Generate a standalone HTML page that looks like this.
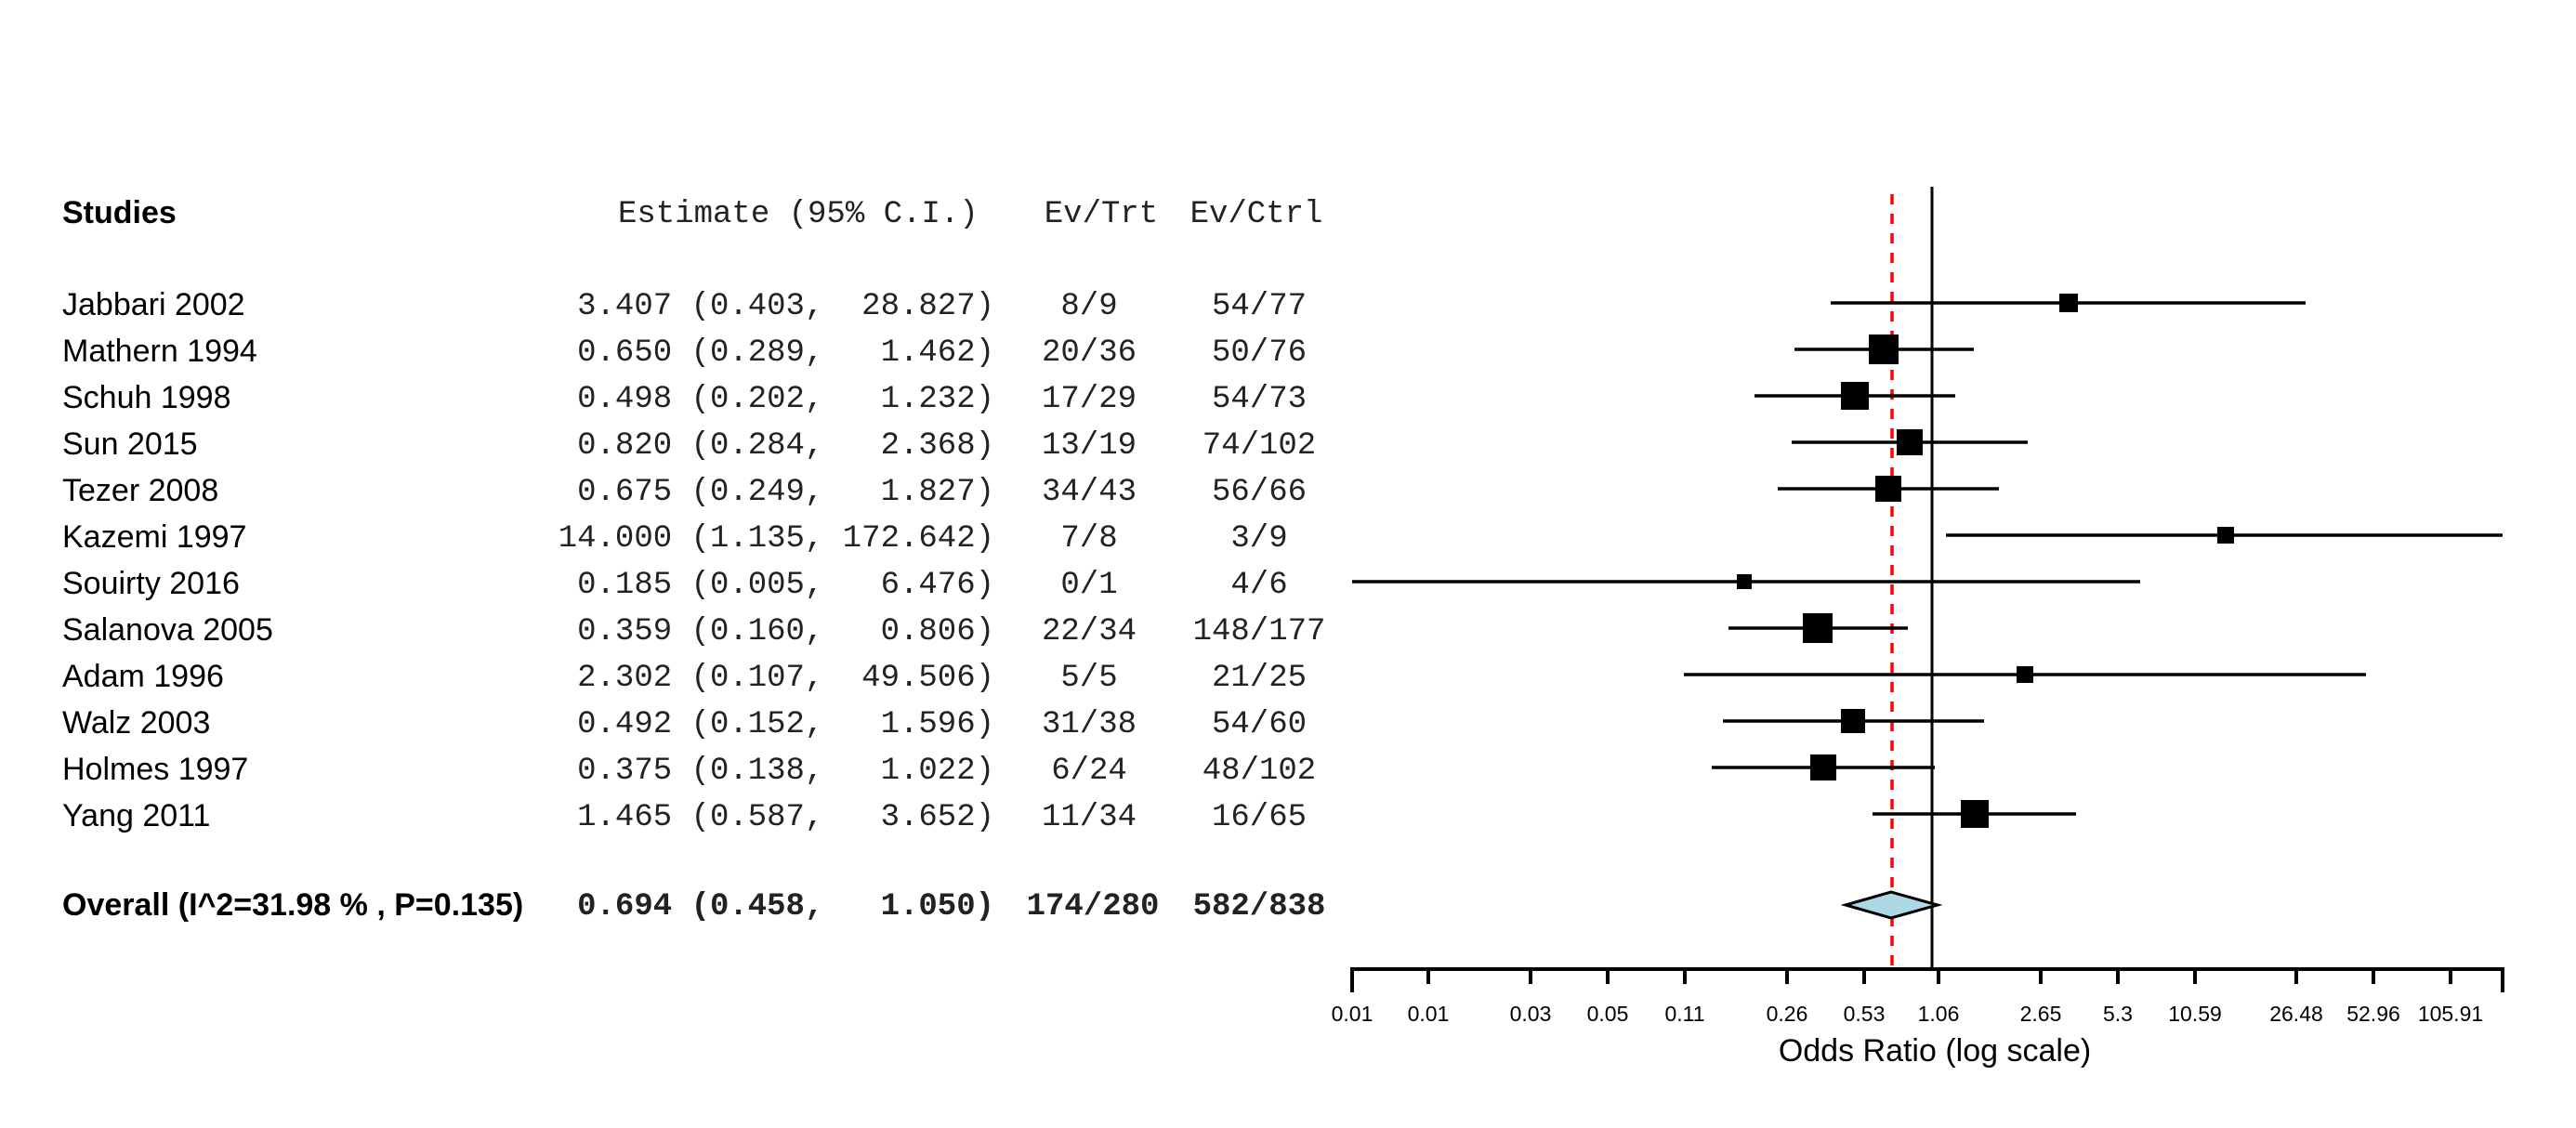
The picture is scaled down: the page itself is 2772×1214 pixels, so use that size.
<!DOCTYPE html>
<html><head><meta charset="utf-8"><style>
html,body{margin:0;padding:0;background:#fff;}
svg{display:block;}
.s{font-family:"Liberation Sans",Arial,sans-serif;font-size:34px;fill:#000;}
.m{font-family:"Liberation Mono","Courier New",monospace;font-size:34px;fill:#222;}
.t{font-family:"Liberation Sans",Arial,sans-serif;font-size:23px;fill:#000;text-anchor:middle;}
</style></head><body>
<svg width="2772" height="1214" viewBox="0 0 2772 1214" xmlns="http://www.w3.org/2000/svg">
<text class="s" x="67" y="240" font-weight="bold">Studies</text>
<text class="m" x="665" y="239" xml:space="preserve">Estimate (95% C.I.)</text>
<text class="m" x="1185" y="239" text-anchor="middle">Ev/Trt</text>
<text class="m" x="1352" y="239" text-anchor="middle">Ev/Ctrl</text>

<text class="s" x="67" y="339">Jabbari 2002</text>
<text class="s" x="67" y="389">Mathern 1994</text>
<text class="s" x="67" y="439">Schuh 1998</text>
<text class="s" x="67" y="489">Sun 2015</text>
<text class="s" x="67" y="539">Tezer 2008</text>
<text class="s" x="67" y="589">Kazemi 1997</text>
<text class="s" x="67" y="639">Souirty 2016</text>
<text class="s" x="67" y="689">Salanova 2005</text>
<text class="s" x="67" y="739">Adam 1996</text>
<text class="s" x="67" y="789">Walz 2003</text>
<text class="s" x="67" y="839">Holmes 1997</text>
<text class="s" x="67" y="889">Yang 2011</text>
<g text-anchor="end">
<text class="m" x="1070" y="338" xml:space="preserve">3.407 (0.403,  28.827)</text>
<text class="m" x="1070" y="388" xml:space="preserve">0.650 (0.289,   1.462)</text>
<text class="m" x="1070" y="438" xml:space="preserve">0.498 (0.202,   1.232)</text>
<text class="m" x="1070" y="488" xml:space="preserve">0.820 (0.284,   2.368)</text>
<text class="m" x="1070" y="538" xml:space="preserve">0.675 (0.249,   1.827)</text>
<text class="m" x="1070" y="588" xml:space="preserve">14.000 (1.135, 172.642)</text>
<text class="m" x="1070" y="638" xml:space="preserve">0.185 (0.005,   6.476)</text>
<text class="m" x="1070" y="688" xml:space="preserve">0.359 (0.160,   0.806)</text>
<text class="m" x="1070" y="738" xml:space="preserve">2.302 (0.107,  49.506)</text>
<text class="m" x="1070" y="788" xml:space="preserve">0.492 (0.152,   1.596)</text>
<text class="m" x="1070" y="838" xml:space="preserve">0.375 (0.138,   1.022)</text>
<text class="m" x="1070" y="888" xml:space="preserve">1.465 (0.587,   3.652)</text>
</g>
<g text-anchor="middle">
<text class="m" x="1172" y="338">8/9</text><text class="m" x="1355" y="338">54/77</text>
<text class="m" x="1172" y="388">20/36</text><text class="m" x="1355" y="388">50/76</text>
<text class="m" x="1172" y="438">17/29</text><text class="m" x="1355" y="438">54/73</text>
<text class="m" x="1172" y="488">13/19</text><text class="m" x="1355" y="488">74/102</text>
<text class="m" x="1172" y="538">34/43</text><text class="m" x="1355" y="538">56/66</text>
<text class="m" x="1172" y="588">7/8</text><text class="m" x="1355" y="588">3/9</text>
<text class="m" x="1172" y="638">0/1</text><text class="m" x="1355" y="638">4/6</text>
<text class="m" x="1172" y="688">22/34</text><text class="m" x="1355" y="688">148/177</text>
<text class="m" x="1172" y="738">5/5</text><text class="m" x="1355" y="738">21/25</text>
<text class="m" x="1172" y="788">31/38</text><text class="m" x="1355" y="788">54/60</text>
<text class="m" x="1172" y="838">6/24</text><text class="m" x="1355" y="838">48/102</text>
<text class="m" x="1172" y="888">11/34</text><text class="m" x="1355" y="888">16/65</text>
</g>
<text class="s" x="67" y="985" font-weight="bold">Overall (I^2=31.98 % , P=0.135)</text>
<text class="m" x="1070" y="984" text-anchor="end" font-weight="bold" xml:space="preserve">0.694 (0.458,   1.050)</text>
<text class="m" x="1176" y="984" text-anchor="middle" font-weight="bold">174/280</text>
<text class="m" x="1355" y="984" text-anchor="middle" font-weight="bold">582/838</text>

<line x1="2079" y1="201" x2="2079" y2="1043" stroke="#000" stroke-width="3"/>
<line x1="2036" y1="209" x2="2036" y2="1043" stroke="#f00" stroke-width="3.5" stroke-dasharray="11 10"/>

<g stroke="#000" stroke-width="3.5">
<line x1="1970" y1="326" x2="2481" y2="326"/>
<line x1="1931" y1="376" x2="2124" y2="376"/>
<line x1="1888" y1="426" x2="2104" y2="426"/>
<line x1="1928" y1="476" x2="2182" y2="476"/>
<line x1="1913" y1="526" x2="2151" y2="526"/>
<line x1="2094" y1="576" x2="2693" y2="576"/>
<line x1="1455" y1="626" x2="2303" y2="626"/>
<line x1="1860" y1="676" x2="2053" y2="676"/>
<line x1="1812" y1="726" x2="2546" y2="726"/>
<line x1="1854" y1="776" x2="2135" y2="776"/>
<line x1="1842" y1="826" x2="2082" y2="826"/>
<line x1="2015" y1="876" x2="2234" y2="876"/>
</g>
<g fill="#000">
<rect x="2216" y="316" width="20" height="20"/>
<rect x="2011" y="360" width="32" height="32"/>
<rect x="1981" y="411" width="30" height="30"/>
<rect x="2041" y="462" width="28" height="28"/>
<rect x="2018" y="512" width="28" height="28"/>
<rect x="2386" y="567" width="18" height="18"/>
<rect x="1869" y="618" width="16" height="16"/>
<rect x="1940" y="660" width="32" height="32"/>
<rect x="2170" y="717" width="18" height="18"/>
<rect x="1981" y="763" width="26" height="26"/>
<rect x="1948" y="812" width="28" height="28"/>
<rect x="2110" y="861" width="30" height="30"/>
</g>
<polygon points="1986,974 2035,960 2085,974 2035,988" fill="#add8e6" stroke="#000" stroke-width="3"/>

<g stroke="#000" stroke-width="4">
<line x1="1455" y1="1043" x2="2693" y2="1043"/>
<line x1="1455" y1="1041" x2="1455" y2="1068"/>
<line x1="2693" y1="1041" x2="2693" y2="1068"/>
<line x1="1537" y1="1043" x2="1537" y2="1059"/>
<line x1="1647" y1="1043" x2="1647" y2="1059"/>
<line x1="1730" y1="1043" x2="1730" y2="1059"/>
<line x1="1813" y1="1043" x2="1813" y2="1059"/>
<line x1="1923" y1="1043" x2="1923" y2="1059"/>
<line x1="2006" y1="1043" x2="2006" y2="1059"/>
<line x1="2086" y1="1043" x2="2086" y2="1059"/>
<line x1="2196" y1="1043" x2="2196" y2="1059"/>
<line x1="2279" y1="1043" x2="2279" y2="1059"/>
<line x1="2362" y1="1043" x2="2362" y2="1059"/>
<line x1="2471" y1="1043" x2="2471" y2="1059"/>
<line x1="2554" y1="1043" x2="2554" y2="1059"/>
<line x1="2637" y1="1043" x2="2637" y2="1059"/>
</g>
<text class="t" x="1455" y="1099">0.01</text>
<text class="t" x="1537" y="1099">0.01</text>
<text class="t" x="1647" y="1099">0.03</text>
<text class="t" x="1730" y="1099">0.05</text>
<text class="t" x="1813" y="1099">0.11</text>
<text class="t" x="1923" y="1099">0.26</text>
<text class="t" x="2006" y="1099">0.53</text>
<text class="t" x="2086" y="1099">1.06</text>
<text class="t" x="2196" y="1099">2.65</text>
<text class="t" x="2279" y="1099">5.3</text>
<text class="t" x="2362" y="1099">10.59</text>
<text class="t" x="2471" y="1099">26.48</text>
<text class="t" x="2554" y="1099">52.96</text>
<text class="t" x="2637" y="1099">105.91</text>
<text class="s" x="2082" y="1142" text-anchor="middle">Odds Ratio (log scale)</text>
</svg>
</body></html>
